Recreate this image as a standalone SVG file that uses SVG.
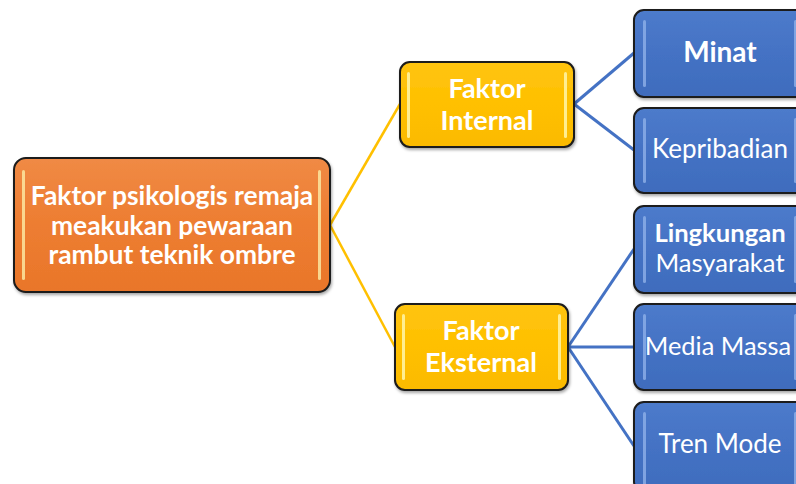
<svg xmlns="http://www.w3.org/2000/svg" width="796" height="484" viewBox="0 0 796 484">
<defs>
<linearGradient id="gOr" x1="0" y1="0" x2="0" y2="1"><stop offset="0" stop-color="#F08A45"/><stop offset="0.5" stop-color="#ED7D31"/><stop offset="1" stop-color="#E9762A"/></linearGradient>
<linearGradient id="gYe" x1="0" y1="0" x2="0" y2="1"><stop offset="0" stop-color="#FFC410"/><stop offset="0.5" stop-color="#FFC000"/><stop offset="1" stop-color="#FBBA00"/></linearGradient>
<linearGradient id="gBl" x1="0" y1="0" x2="0" y2="1"><stop offset="0" stop-color="#4D7BCB"/><stop offset="0.5" stop-color="#4472C4"/><stop offset="1" stop-color="#3F6CBD"/></linearGradient>
<filter id="sh" x="-10%" y="-10%" width="120%" height="130%"><feDropShadow dx="1" dy="2" stdDeviation="1.5" flood-color="#000" flood-opacity="0.35"/></filter>
</defs>
<style>
.box{stroke:#1a1a1a;stroke-width:2;filter:url(#sh)}
.or{fill:url(#gOr)}
.ye{fill:url(#gYe)}
.bl{fill:url(#gBl)}
.hlo{fill:#FCE6A0;opacity:0.85}
.hly{fill:#FFF3A0;opacity:0.9}
.hlb{fill:#8FB0E8;opacity:0.8}
text{font-family:"Lato","Open Sans","Liberation Sans",sans-serif;fill:#fff;text-anchor:middle}
.b{font-weight:bold}
.cy{stroke:#FFC000;stroke-width:2.5;fill:none}
.cb{stroke:#4472C4;stroke-width:3;fill:none}
</style>
<g id="connectors">
<path class="cy" d="M330,225 L400,104"/>
<path class="cy" d="M330,225 L395,347"/>
<path class="cb" d="M574,104 L634,53"/>
<path class="cb" d="M574,104 L634,150"/>
<path class="cb" d="M568,347 L634,249"/>
<path class="cb" d="M568,347 L634,347"/>
<path class="cb" d="M568,347 L634,446"/>
</g>
<g id="root">
<rect class="box or" x="14" y="158" width="316" height="134" rx="12"/>
<rect class="hlo" x="22" y="170" width="3" height="110" rx="1.5"/>
<rect class="hlo" x="318" y="170" width="3" height="110" rx="1.5"/>
<text class="b" font-size="26.4" x="172" y="205">Faktor psikologis remaja</text>
<text class="b" font-size="26.4" x="172" y="235">meakukan pewaraan</text>
<text class="b" font-size="26.4" x="172" y="264">rambut teknik ombre</text>
</g>
<g id="internal">
<rect class="box ye" x="400" y="62" width="174" height="85" rx="10"/>
<rect class="hly" x="407" y="72" width="3" height="66" rx="1.5"/>
<rect class="hly" x="564" y="72" width="3" height="66" rx="1.5"/>
<text class="b" font-size="27" x="487" y="98">Faktor</text>
<text class="b" font-size="27" x="487" y="130">Internal</text>
</g>
<g id="eksternal">
<rect class="box ye" x="395" y="304" width="173" height="86" rx="10"/>
<rect class="hly" x="402" y="314" width="3" height="66" rx="1.5"/>
<rect class="hly" x="558" y="314" width="3" height="66" rx="1.5"/>
<text class="b" font-size="27" x="481" y="340">Faktor</text>
<text class="b" font-size="27" x="481" y="372">Eksternal</text>
</g>
<g id="minat">
<rect class="box bl" x="634" y="10" width="172" height="87" rx="10"/>
<rect class="hlb" x="643" y="20" width="3" height="67" rx="1.5"/>
<rect class="hlb" x="794" y="20" width="3" height="67" rx="1.5"/>
<text class="b" font-size="28" x="720" y="62">Minat</text>
</g>
<g id="kepribadian">
<rect class="box bl" x="634" y="108" width="172" height="85" rx="10"/>
<rect class="hlb" x="643" y="118" width="3" height="65" rx="1.5"/>
<rect class="hlb" x="794" y="118" width="3" height="65" rx="1.5"/>
<text font-size="26" x="720" y="158">Kepribadian</text>
</g>
<g id="lingkungan">
<rect class="box bl" x="634" y="206" width="172" height="87" rx="10"/>
<rect class="hlb" x="643" y="216" width="3" height="67" rx="1.5"/>
<rect class="hlb" x="794" y="216" width="3" height="67" rx="1.5"/>
<text class="b" font-size="25.6" x="720" y="242">Lingkungan</text>
<text font-size="25.6" x="720" y="272">Masyarakat</text>
</g>
<g id="media">
<rect class="box bl" x="634" y="304" width="172" height="86" rx="10"/>
<rect class="hlb" x="643" y="314" width="3" height="66" rx="1.5"/>
<rect class="hlb" x="794" y="314" width="3" height="66" rx="1.5"/>
<text font-size="25.4" x="718" y="355">Media Massa</text>
</g>
<g id="tren">
<rect class="box bl" x="634" y="402" width="172" height="90" rx="10"/>
<rect class="hlb" x="643" y="412" width="3" height="80" rx="1.5"/>
<rect class="hlb" x="794" y="412" width="3" height="80" rx="1.5"/>
<text font-size="26" x="720" y="453">Tren Mode</text>
</g>
</svg>
